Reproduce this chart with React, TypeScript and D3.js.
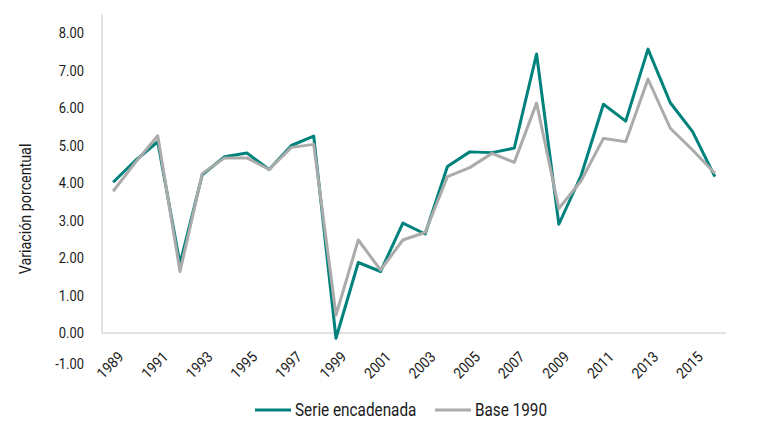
import React, { useRef, useEffect } from "react";
import * as d3 from "d3";

// Años (categorías del eje X)
const years: number[] = d3.range(1989, 2017);

// Variación porcentual, serie encadenada
const serieEncadenada: number[] = [
  4.02, 4.6, 5.1, 1.85, 4.22, 4.7, 4.8, 4.36, 5.0, 5.25,
  -0.14, 1.88, 1.64, 2.93, 2.64, 4.44, 4.83, 4.81, 4.93, 7.44,
  2.9, 4.2, 6.1, 5.65, 7.57, 6.14, 5.37, 4.17,
];

// Variación porcentual, base 1990
const base1990: number[] = [
  3.78, 4.55, 5.26, 1.64, 4.25, 4.67, 4.67, 4.36, 4.95, 5.03,
  0.48, 2.48, 1.68, 2.48, 2.68, 4.17, 4.41, 4.79, 4.55, 6.13,
  3.32, 4.06, 5.19, 5.1, 6.77, 5.46, 4.88, 4.26,
];

const yTicks: number[] = [-1, 0, 1, 2, 3, 4, 5, 6, 7, 8];
const xTickYears: number[] = years.filter(y => y % 2 === 1 && y <= 2015);

const seriesNames = ["Serie encadenada", "Base 1990"];
const seriesColors = ["#00827c", "#ababab"];

const FONT = "Roboto, 'Liberation Sans', sans-serif";
const SQUEEZE = 0.86; // narrow the glyphs to look like a condensed face

const App: React.FC = () => {
  const svgRef = useRef<SVGSVGElement>(null);

  useEffect(() => {
    const width = 768;
    const height = 448;

    const svg = d3.select(svgRef.current);
    svg.selectAll("*").remove();
    svg.attr("width", width).attr("height", height);

    // condense any text selection
    const condense = (sel: d3.Selection<SVGTextElement, any, any, any>, k = SQUEEZE) => {
      sel.each(function () {
        const len = this.getComputedTextLength();
        d3.select(this)
          .attr("textLength", len * k)
          .attr("lengthAdjust", "spacingAndGlyphs");
      });
    };

    // Scales
    const x = d3
      .scaleBand<number>()
      .domain(years)
      .range([102, 726]);
    const cx = (yr: number) => (x(yr) ?? 0) + x.bandwidth() / 2;

    const y = d3.scaleLinear().domain([-1, 8.5]).range([370.5, 14.25]);

    // Axis lines
    svg.append("line")
      .attr("x1", 102).attr("x2", 102)
      .attr("y1", y(8.5)).attr("y2", y(0))
      .attr("stroke", "#d9d9d9").attr("stroke-width", 1.5);
    svg.append("line")
      .attr("x1", 102).attr("x2", 726)
      .attr("y1", y(0)).attr("y2", y(0))
      .attr("stroke", "#d9d9d9").attr("stroke-width", 1.5);

    // Y tick labels
    const yLabels = svg.append("g")
      .selectAll("text")
      .data(yTicks)
      .enter()
      .append("text")
      .attr("x", 84)
      .attr("y", d => y(d))
      .attr("dy", d => (d === -1 ? "-0.12em" : "0.35em"))
      .attr("text-anchor", "end")
      .attr("font-family", FONT)
      .attr("font-size", 15)
      .attr("fill", "#1a1a1a")
      .text(d => d3.format(".2f")(d).replace("−", "-"));
    condense(yLabels);

    // X tick labels (rotated)
    const xLabels = svg.append("g")
      .selectAll("text")
      .data(xTickYears)
      .enter()
      .append("text")
      .attr("transform", d => `translate(${cx(d) + 4}, ${y(-1) - 20}) rotate(-45)`)
      .attr("text-anchor", "end")
      .attr("dy", "0.7em")
      .attr("font-family", FONT)
      .attr("font-size", 15)
      .attr("fill", "#1a1a1a")
      .text(d => String(d));
    condense(xLabels, 0.9);

    // Y axis title
    const title = svg.append("text")
      .attr("transform", `translate(31, 209) rotate(-90)`)
      .attr("text-anchor", "middle")
      .attr("font-family", FONT)
      .attr("font-size", 17)
      .attr("fill", "#1a1a1a")
      .text("Variación porcentual");
    condense(title as any, 0.84);

    // Lines
    const line = d3
      .line<number>()
      .x((_, i) => cx(years[i]))
      .y(d => y(d));

    [serieEncadenada, base1990].forEach((values, i) => {
      svg.append("path")
        .datum(values)
        .attr("d", line)
        .attr("fill", "none")
        .attr("stroke", seriesColors[i])
        .attr("stroke-width", 3)
        .attr("stroke-linejoin", "round");
    });

    // Legend
    const legendX = [255, 435];
    const legend = svg.append("g");
    seriesNames.forEach((name, i) => {
      legend.append("line")
        .attr("x1", legendX[i]).attr("x2", legendX[i] + 36)
        .attr("y1", 410).attr("y2", 410)
        .attr("stroke", seriesColors[i])
        .attr("stroke-width", 3);
      const t = legend.append("text")
        .attr("x", legendX[i] + 40)
        .attr("y", 410)
        .attr("dy", "0.36em")
        .attr("font-family", FONT)
        .attr("font-size", 18)
        .attr("fill", "#1a1a1a")
        .text(name);
      condense(t as any, 0.85);
    });
  }, []);

  return (
    <div style={{ position: "absolute", left: 0, top: 0, width: 768, height: 448, background: "#fff" }}>
      <svg ref={svgRef} style={{ display: "block" }} />
    </div>
  );
};

export default App;
